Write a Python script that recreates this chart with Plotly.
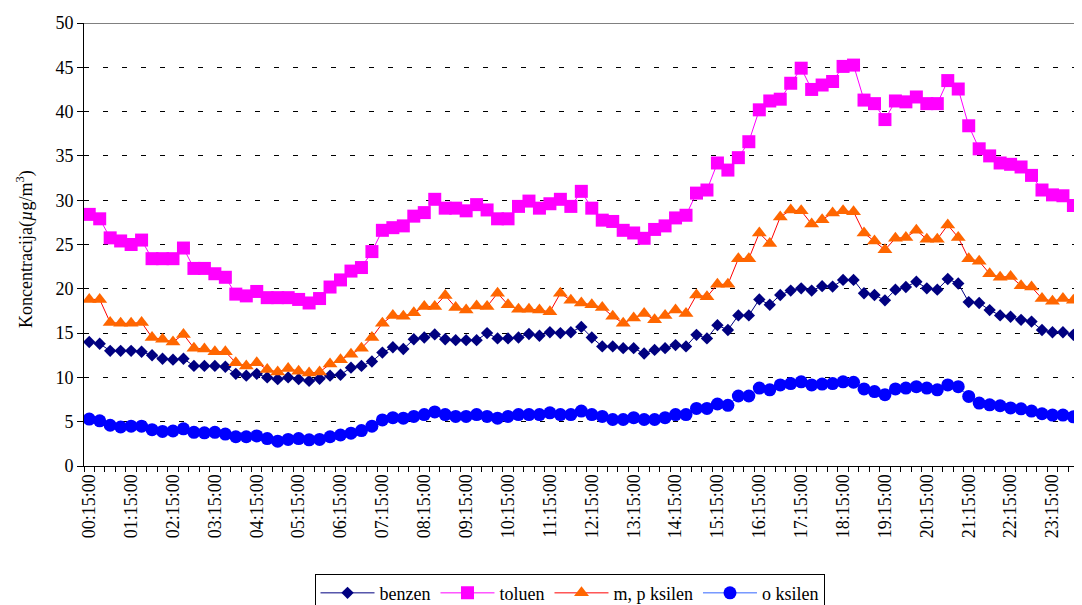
import plotly.graph_objects as go

# ---- data ----
times = [("%02d:%02d:00" % (h % 24, m)) for h, m in (divmod(15 * (k + 1), 60) for k in range(96))]

benzen = [14.0, 13.8, 13.0, 13.0, 13.0, 12.9, 12.5, 12.1, 12.0, 12.1, 11.3, 11.3, 11.3, 11.2, 10.4, 10.2,
          10.4, 10.0, 9.8, 10.0, 9.8, 9.6, 9.85, 10.2, 10.3,
          11.1, 11.3, 11.8, 12.8, 13.4, 13.2, 14.3, 14.5, 14.85, 14.3, 14.2, 14.2, 14.2, 15.0, 14.4, 14.4,
          14.5, 14.9, 14.7, 15.1, 15.0, 15.1, 15.7,
          14.5, 13.5, 13.5, 13.3, 13.3, 12.7, 13.1, 13.3, 13.65, 13.5, 14.8, 14.4, 15.9, 15.35, 17.0, 17.0,
          18.8, 18.2, 19.3, 19.8, 20.05, 19.8, 20.3, 20.25, 21.0,
          21.0, 19.5, 19.3, 18.7, 19.9, 20.2, 20.8, 20.05, 19.9, 21.1, 20.6, 18.5, 18.4, 17.6, 17.0, 16.85,
          16.5, 16.3, 15.35, 15.1, 15.1, 14.8, 14.6]

toluen = [28.4, 27.9, 25.75, 25.4, 25.0, 25.5, 23.4, 23.4, 23.4, 24.6, 22.3, 22.3, 21.7, 21.3, 19.4, 19.2,
          19.7, 19.0, 19.0, 19.0, 18.8, 18.4, 18.9, 20.2, 21.0,
          22.0, 22.4, 24.2, 26.6, 26.9, 27.1, 28.2, 28.6, 30.1, 29.1, 29.1, 28.8, 29.5, 28.9, 27.9, 27.9,
          29.3, 29.9, 29.1, 29.6, 30.1, 29.3, 31.0,
          29.1, 27.75, 27.6, 26.6, 26.3, 25.7, 26.7, 27.1, 28.0, 28.3, 30.8, 31.15, 34.2, 33.4, 34.8, 36.6,
          40.2, 41.2, 41.4, 43.2, 44.9, 42.5, 43.0, 43.4, 45.1,
          45.25, 41.3, 40.9, 39.1, 41.2, 41.1, 41.65, 40.9, 40.9, 43.5, 42.55, 38.4, 35.8, 35.0, 34.2, 34.05,
          33.75, 32.8, 31.15, 30.6, 30.5, 29.4, 29.0]

mp_ksilen = [18.8, 18.8, 16.2, 16.1, 16.1, 16.2, 14.5, 14.3, 14.0, 14.85, 13.3, 13.2, 12.9, 12.9, 11.65, 11.3,
             11.65, 10.9, 10.6, 11.0, 10.7, 10.5, 10.6, 11.5, 12.0,
             12.6, 13.3, 14.5, 16.1, 17.0, 16.9, 17.3, 18.0, 18.0, 19.25, 17.9, 17.6, 18.05, 18.0, 19.5, 18.2,
             17.7, 17.7, 17.6, 17.4, 19.5, 18.7, 18.4,
             18.2, 17.9, 16.9, 16.1, 16.7, 17.2, 16.5, 17.0, 17.6, 17.2, 19.3, 19.1, 20.5, 20.5, 23.4, 23.4,
             26.3, 25.1, 28.1, 28.9, 28.8, 27.3, 27.8, 28.55, 28.8,
             28.7, 26.3, 25.4, 24.4, 25.7, 25.8, 26.6, 25.6, 25.6, 27.2, 25.8, 23.4, 23.1, 21.7, 21.3, 21.4,
             20.35, 20.2, 18.9, 18.6, 18.9, 18.7, 18.6]

o_ksilen = [5.3, 5.1, 4.6, 4.4, 4.5, 4.5, 4.1, 3.9, 3.95, 4.2, 3.8, 3.75, 3.8, 3.6, 3.3, 3.3,
            3.4, 3.1, 2.8, 3.0, 3.1, 2.95, 3.0, 3.3, 3.5, 3.7, 4.0, 4.5, 5.2,
            5.45, 5.4, 5.6, 5.8, 6.1, 5.8, 5.6, 5.6, 5.8, 5.6, 5.4, 5.6, 5.8, 5.8, 5.8, 6.0, 5.8, 5.8, 6.2,
            5.8, 5.6, 5.25, 5.25, 5.45, 5.25, 5.25, 5.45, 5.8, 5.8, 6.5, 6.5, 7.0, 6.85, 7.9, 7.9,
            8.8, 8.6, 9.15, 9.3, 9.5, 9.15, 9.25, 9.3, 9.5,
            9.45, 8.7, 8.4, 8.05, 8.7, 8.8, 8.95, 8.8, 8.6, 9.15, 8.95, 7.85, 7.1, 6.9, 6.8, 6.55,
            6.45, 6.2, 5.9, 5.75, 5.75, 5.55, 5.4]

series_names = ["benzen", "toluen", "m, p ksilen", "o ksilen"]
y_ticks = [0, 5, 10, 15, 20, 25, 30, 35, 40, 45, 50]

x = list(range(len(times)))
label_idx = list(range(0, 96, 4))

FONT = "Times New Roman"

# The page body has an 8px default margin: the figure is sized/offset to compensate.
FIG_W, FIG_H = 1074, 597

fig = go.Figure()
styles = [
    (benzen, "#000080", "#000080", "diamond", 9.5),
    (toluen, "#FF00FF", "#FF00FF", "square", 13),
    (mp_ksilen, "#FF0000", "#FF6600", "triangle-up", 13),
    (o_ksilen, "#3366FF", "#0000FF", "circle", 13),
]
for name, (vals, lc, mc, sym, sz) in zip(series_names, styles):
    fig.add_trace(go.Scatter(
        x=x, y=vals, name=name, mode="lines+markers",
        line=dict(color=lc, width=1),
        marker=dict(symbol=sym, size=sz, color=mc, line=dict(width=0)),
    ))

fig.update_layout(
    width=FIG_W, height=FIG_H,
    margin=dict(l=76, r=0, t=15, b=139, autoexpand=False),
    paper_bgcolor="white", plot_bgcolor="white",
    font=dict(family=FONT, size=18, color="black"),
    showlegend=True,
    legend=dict(
        orientation="h", x=0.4865, xanchor="center", y=-0.243, yanchor="top",
        bordercolor="black", borderwidth=1, font=dict(size=18, family=FONT),
        itemwidth=54, traceorder="normal",
    ),
    xaxis=dict(
        range=[-0.5, 94.82], showgrid=False, zeroline=False, automargin=False,
        showline=True, linecolor="black", linewidth=1,
        tickmode="array", tickvals=label_idx, ticktext=[times[i] for i in label_idx],
        tickangle=-90, ticks="outside", ticklen=0,
        tickfont=dict(family=FONT, size=18),
        minor=dict(tickmode="linear", tick0=-0.5, dtick=1, ticks="outside",
                   ticklen=5, tickcolor="black", tickwidth=1, showgrid=False),
    ),
    yaxis=dict(
        range=[0, 50], tickmode="array", tickvals=y_ticks, automargin=False,
        showgrid=True, gridcolor="#000000", gridwidth=1, griddash="5px,14px",
        zeroline=False, showline=True, linecolor="black", linewidth=1,
        ticks="outside", ticklen=6, tickcolor="black",
        tickfont=dict(family=FONT, size=18),
    ),
)

fig.add_shape(type="line", xref="paper", x0=0, x1=1, yref="y", y0=50, y1=50,
              line=dict(color="#808080", width=2))

fig.add_annotation(
    text="Koncentracija(<i>µ</i>g/m<sup>3</sup>)",
    xref="paper", yref="paper", x=(17 - 76) / 998, y=0.49,
    xanchor="center", yanchor="middle", textangle=-90, showarrow=False,
    font=dict(family=FONT, size=18, color="black"),
)

fig.write_html("out.html")
